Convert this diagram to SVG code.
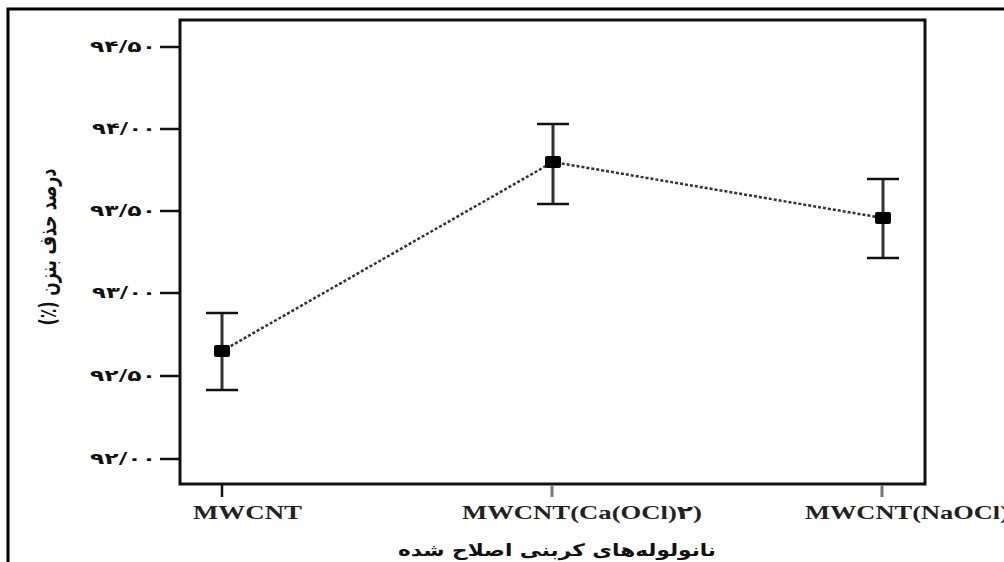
<svg xmlns="http://www.w3.org/2000/svg" width="1004" height="562" viewBox="0 0 1004 562">
<style>
.frame{fill:none;stroke:#000;stroke-width:3}
.axis{fill:none;stroke:#111;stroke-width:3}
.tick{stroke:#111;stroke-width:2.5}
.xtick{stroke:#777;stroke-width:3}
.ylab{font-family:"DejaVu Sans",sans-serif;font-weight:bold;font-size:16px;fill:#111;text-anchor:end}
.xlab{font-family:"Liberation Serif","DejaVu Serif",serif;font-weight:bold;font-size:19px;fill:#222}
.fa{font-family:"DejaVu Sans",sans-serif}
.title{font-family:"DejaVu Sans",sans-serif;font-weight:bold;font-size:17px;fill:#111;text-anchor:middle}
.err{stroke:#333;stroke-width:3}
.cap{stroke:#111;stroke-width:2.5}
.mark{fill:#000}
.conn{fill:none;stroke:#333;stroke-width:2.5;stroke-dasharray:3 2}
</style>
<rect width="1004" height="562" fill="#fff"/>
<rect class="frame" x="8" y="9" width="1010" height="570"/>
<g id="axes">
<rect class="axis" x="180" y="20" width="745" height="464"/>
<line class="tick" x1="160" y1="47" x2="180" y2="47"/>
<line class="tick" x1="160" y1="129" x2="180" y2="129"/>
<line class="tick" x1="160" y1="211" x2="180" y2="211"/>
<line class="tick" x1="160" y1="293" x2="180" y2="293"/>
<line class="tick" x1="160" y1="376" x2="180" y2="376"/>
<line class="tick" x1="160" y1="459" x2="180" y2="459"/>
<text class="ylab" x="156" y="52" textLength="66" lengthAdjust="spacingAndGlyphs">۹۴/۵۰</text>
<text class="ylab" x="156" y="134" textLength="64" lengthAdjust="spacingAndGlyphs">۹۴/۰۰</text>
<text class="ylab" x="156" y="216" textLength="66" lengthAdjust="spacingAndGlyphs">۹۳/۵۰</text>
<text class="ylab" x="156" y="298" textLength="64" lengthAdjust="spacingAndGlyphs">۹۳/۰۰</text>
<text class="ylab" x="156" y="381" textLength="66" lengthAdjust="spacingAndGlyphs">۹۲/۵۰</text>
<text class="ylab" x="156" y="464" textLength="66" lengthAdjust="spacingAndGlyphs">۹۲/۰۰</text>
<line class="tick" x1="222" y1="485" x2="222" y2="497"/>
<line class="xtick" x1="552" y1="485" x2="552" y2="497"/>
<line class="xtick" x1="882" y1="485" x2="882" y2="497"/>
<text class="xlab" x="193" y="519" textLength="109" lengthAdjust="spacingAndGlyphs">MWCNT</text>
<text class="xlab" x="462" y="519" textLength="240" lengthAdjust="spacingAndGlyphs">MWCNT(Ca(OCl)<tspan class="fa">۲</tspan>)</text>
<text class="xlab" x="805" y="519" textLength="204" lengthAdjust="spacingAndGlyphs">MWCNT(NaOCl)</text>
<text class="title" x="557" y="556" direction="rtl" textLength="318" lengthAdjust="spacingAndGlyphs">نانولوله‌های کربنی اصلاح شده</text>
<text class="title" style="font-size:23px" transform="translate(56,247) rotate(-90)" x="0" y="0" direction="rtl" textLength="157" lengthAdjust="spacingAndGlyphs">درصد حذف بنزن (٪)</text>
</g>
<g id="connectors">
<polyline class="conn" points="222,351 553,162 883,218"/>
</g>
<g id="mwcnt">
<line class="err" x1="222" y1="313" x2="222" y2="390"/>
<line class="cap" x1="206" y1="313" x2="238" y2="313"/>
<line class="cap" x1="206" y1="390" x2="238" y2="390"/>
<rect class="mark" x="214" y="345" width="16" height="12" rx="2"/>
</g>
<g id="mwcnt-ca">
<line class="err" x1="553" y1="124" x2="553" y2="204"/>
<line class="cap" x1="537" y1="124" x2="569" y2="124"/>
<line class="cap" x1="537" y1="204" x2="569" y2="204"/>
<rect class="mark" x="545" y="156" width="16" height="12" rx="2"/>
</g>
<g id="mwcnt-na">
<line class="err" x1="883" y1="179" x2="883" y2="258"/>
<line class="cap" x1="867" y1="179" x2="899" y2="179"/>
<line class="cap" x1="867" y1="258" x2="899" y2="258"/>
<rect class="mark" x="875" y="212" width="16" height="12" rx="2"/>
</g>
</svg>
